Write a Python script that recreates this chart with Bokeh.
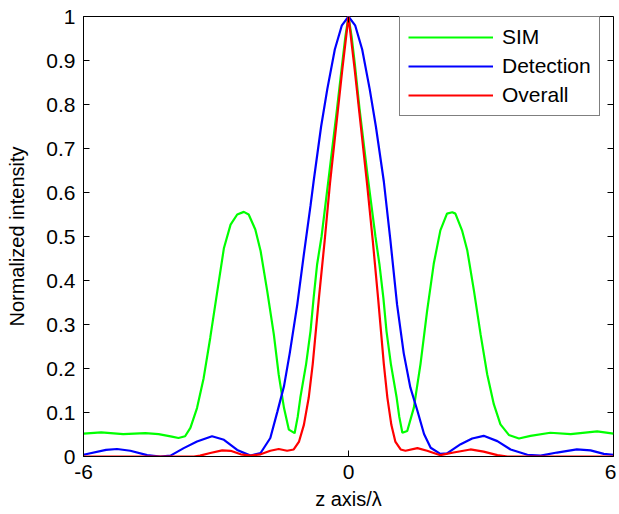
import math
from bokeh.plotting import figure
from bokeh.models import Range1d, FixedTicker, Legend, LegendItem
from bokeh.embed import file_html
from bokeh.resources import INLINE

# ---- data ----
sim_x = [-6.0, -5.6, -5.1, -4.6, -4.3, -4.0, -3.85, -3.7, -3.58, -3.43, -3.28, -3.13, -2.97, -2.82,
         -2.67, -2.52, -2.37, -2.26, -2.11, -1.99, -1.84, -1.69, -1.58, -1.46, -1.35, -1.22, -1.15,
         -1.09, -0.96, -0.86, -0.79, -0.71, -0.61, -0.44, -0.26, -0.14, -0.07, 0.0,
         0.07, 0.14, 0.25, 0.43, 0.61, 0.70, 0.79, 0.86, 0.96, 1.09, 1.15, 1.22, 1.33, 1.48, 1.63,
         1.78, 1.93, 2.08, 2.23, 2.35, 2.42, 2.57, 2.69, 2.84, 2.99, 3.14, 3.29, 3.44, 3.63, 3.86,
         4.12, 4.57, 5.03, 5.63, 6.0]
sim_y = [0.052, 0.055, 0.051, 0.053, 0.051, 0.045, 0.042, 0.046, 0.065, 0.11, 0.178, 0.27, 0.376, 0.474,
         0.527, 0.55, 0.556, 0.55, 0.516, 0.467, 0.376, 0.277, 0.186, 0.11, 0.061, 0.053, 0.09,
         0.134, 0.21, 0.285, 0.36, 0.437, 0.50, 0.64, 0.79, 0.895, 0.955, 1.0,
         0.955, 0.895, 0.79, 0.64, 0.50, 0.437, 0.36, 0.285, 0.21, 0.134, 0.09, 0.054, 0.058, 0.111, 0.21,
         0.331, 0.438, 0.514, 0.552, 0.555, 0.552, 0.514, 0.468, 0.377, 0.278, 0.187, 0.119, 0.073, 0.049, 0.041,
         0.047, 0.054, 0.051, 0.057, 0.052]

det_x = [-6.0, -5.49, -5.24, -4.94, -4.56, -4.26, -4.03, -3.73, -3.43, -3.09, -2.82, -2.52, -2.22, -1.99,
         -1.77, -1.61, -1.46, -1.33, -1.16, -1.01, -0.86, -0.79, -0.62, -0.48, -0.31, -0.15, 0.0,
         0.15, 0.31, 0.48, 0.62, 0.8, 0.95, 1.1, 1.25, 1.4, 1.56, 1.71, 1.86, 2.08, 2.23, 2.54, 2.8,
         3.06, 3.37, 3.67, 4.05, 4.35, 4.72, 5.17, 5.48, 5.78, 6.0]
det_y = [0.004, 0.015, 0.017, 0.013, 0.003, 0.0, 0.002, 0.019, 0.034, 0.046, 0.038, 0.015, 0.002, 0.008,
         0.042, 0.102, 0.16, 0.235, 0.345, 0.46, 0.57, 0.625, 0.75, 0.835, 0.925, 0.98, 1.0,
         0.98, 0.925, 0.835, 0.75, 0.625, 0.49, 0.345, 0.235, 0.157, 0.104, 0.051, 0.02, 0.006, 0.007, 0.028, 0.041,
         0.047, 0.035, 0.016, 0.004, 0.002, 0.009, 0.016, 0.014, 0.006, 0.004]

all_x = [-6.0, -3.5, -3.36, -3.13, -2.86, -2.67, -2.44, -2.22, -1.99, -1.77, -1.58, -1.39, -1.24, -1.12,
         -1.01, -0.9, -0.81, -0.67, -0.54, -0.42, -0.28, -0.14, 0.0,
         0.14, 0.28, 0.42, 0.55, 0.67, 0.8, 0.88, 0.97, 1.06, 1.18, 1.29, 1.56, 1.78, 2.08, 2.38, 2.76,
         3.06, 3.37, 3.6, 6.0]
all_y = [0.0, 0.0, 0.002, 0.008, 0.014, 0.013, 0.005, 0.002, 0.005, 0.013, 0.017, 0.013, 0.016, 0.034,
         0.072, 0.134, 0.21, 0.36, 0.49, 0.62, 0.75, 0.88, 1.0,
         0.88, 0.75, 0.62, 0.49, 0.36, 0.21, 0.134, 0.072, 0.034, 0.016, 0.013, 0.019, 0.013, 0.003, 0.009, 0.016,
         0.011, 0.003, 0.0, 0.0]

x_ticks = [-6, 0, 6]
x_tick_labels = ["-6", "0", "6"]
y_ticks = [0, 0.1, 0.2, 0.3, 0.4, 0.5, 0.6, 0.7, 0.8, 0.9, 1]
y_tick_labels = ["0", "0.1", "0.2", "0.3", "0.4", "0.5", "0.6", "0.7", "0.8", "0.9", "1"]
series_names = ["SIM", "Detection", "Overall"]
series_colors = ["#00ff00", "#0000ff", "#ff0000"]

FONT = "Liberation Sans"
X_MIN, X_MAX, Y_MIN, Y_MAX = -6, 6, 0, 1

p = figure(width=616, height=512, output_backend="svg", toolbar_location=None,
           x_range=Range1d(X_MIN, X_MAX), y_range=Range1d(Y_MIN, Y_MAX),
           x_axis_label="z axis/λ", y_axis_label="Normalized intensity")
p.min_border_left = 83
p.min_border_right = 3
p.min_border_top = 16
p.min_border_bottom = 56
p.grid.visible = False
p.outline_line_color = "black"
p.outline_line_width = 1
p.background_fill_color = "white"
p.border_fill_color = "white"

r_sim = p.line(sim_x, sim_y, line_color=series_colors[0], line_width=2.2)
r_det = p.line(det_x, det_y, line_color=series_colors[1], line_width=2.2)
r_all = p.line(all_x, all_y, line_color=series_colors[2], line_width=2.2)

# mirrored inward ticks on the right and top edges of the box
p.ray(x=[X_MAX] * len(y_ticks), y=y_ticks, length=6, length_units="screen",
      angle=math.pi, line_color="black", line_width=1)
p.ray(x=x_ticks, y=[Y_MAX] * len(x_ticks), length=6, length_units="screen",
      angle=-math.pi / 2, line_color="black", line_width=1)

p.xaxis.ticker = FixedTicker(ticks=x_ticks)
p.xaxis.major_label_overrides = {t: l for t, l in zip(x_ticks, x_tick_labels)}
p.yaxis.ticker = FixedTicker(ticks=y_ticks)
p.yaxis.major_label_overrides = {t: l for t, l in zip(y_ticks, y_tick_labels)}

for ax in p.axis:
    ax.major_tick_in = 6
    ax.major_tick_out = 0
    ax.minor_tick_line_color = None
    ax.axis_line_color = "black"
    ax.major_tick_line_color = "black"
    ax.major_label_text_font = FONT
    ax.major_label_text_font_size = "21px"
    ax.major_label_text_color = "black"
    ax.axis_label_text_font = FONT
    ax.axis_label_text_font_size = "20px"
    ax.axis_label_text_font_style = "normal"
    ax.axis_label_text_color = "black"

p.xaxis.major_label_standoff = 8
p.xaxis.axis_label_standoff = 6
p.yaxis.major_label_standoff = 8
p.yaxis.axis_label_standoff = 15

legend = Legend(items=[LegendItem(label=series_names[0], renderers=[r_sim]),
                       LegendItem(label=series_names[1], renderers=[r_det]),
                       LegendItem(label=series_names[2], renderers=[r_all])],
                location=(316, 340))
legend.label_text_font = FONT
legend.label_text_font_size = "21px"
legend.label_text_color = "black"
legend.glyph_width = 85
legend.glyph_height = 20
legend.label_height = 20
legend.label_standoff = 9
legend.spacing = 5
legend.padding = 8
legend.margin = 0
legend.border_line_color = "black"
legend.border_line_width = 1
legend.background_fill_color = "white"
legend.background_fill_alpha = 1
p.add_layout(legend, "center")

open("out.html", "w").write(file_html(p, INLINE))
